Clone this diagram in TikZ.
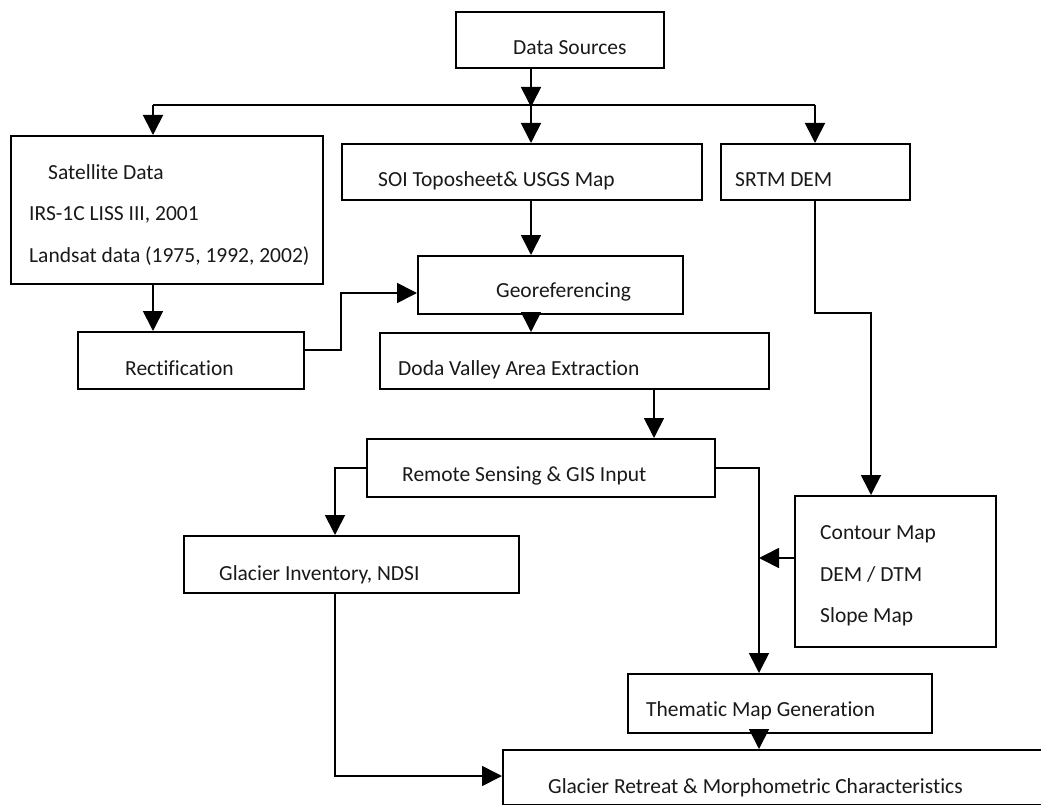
\documentclass[tikz,border=0pt]{standalone}
\usepackage{fontspec}
\setmainfont{Carlito}[Ligatures={NoCommon}]
\usetikzlibrary{arrows.meta}
\begin{document}
\begin{tikzpicture}[x=1pt,y=-1pt,
  box/.style={draw=black,line width=1.7pt,inner sep=0pt,anchor=north west},
  lbl/.style={anchor=base west,inner sep=0pt,text=black!90,font=\fontsize{21.5}{24}\selectfont},
  arr/.style={line width=1.7pt,-{Triangle[length=20pt,width=20pt]}},
  ln/.style={line width=1.7pt}]
\clip (0,0) rectangle (1041,805);
\fill[white] (0,0) rectangle (1041,805);
% boxes
\node[box,minimum width=208pt,minimum height=56pt] (ds) at (455,11) {};
\node[box,minimum width=312pt,minimum height=148pt] (sat) at (10,135) {};
\node[box,minimum width=360pt,minimum height=56pt] (soi) at (341,143) {};
\node[box,minimum width=189pt,minimum height=56pt] (srtm) at (720,143) {};
\node[box,minimum width=265pt,minimum height=58pt] (geo) at (417,255) {};
\node[box,minimum width=226pt,minimum height=57pt] (rect) at (77,331) {};
\node[box,minimum width=389pt,minimum height=56pt] (doda) at (379,332) {};
\node[box,minimum width=348pt,minimum height=58pt] (rs) at (366,438) {};
\node[box,minimum width=335pt,minimum height=57pt] (gi) at (183,535) {};
\node[box,minimum width=201pt,minimum height=151pt] (cm) at (794,495) {};
\node[box,minimum width=304pt,minimum height=59pt] (tm) at (627,673) {};
\node[box,minimum width=600pt,minimum height=55pt] (gr) at (502,749) {};
% texts
\node[lbl] (dst) at (513,55) {Data Sources};
\node[lbl] (satt1) at (48,180) {Satellite Data};
\node[lbl] (satt2) at (29,221) {IRS-1C LISS III, 2001};
\node[lbl] (satt3) at (29,262) {Landsat data (1975, 1992, 2002)};
\node[lbl] (soit) at (378,186) {SOI Toposheet\& USGS Map};
\node[lbl] (srtmt) at (735,186) {SRTM DEM};
\node[lbl] (geot) at (496,297) {Georeferencing};
\node[lbl] (rectt) at (125,375) {Rectification};
\node[lbl] (dodat) at (398,375) {Doda Valley Area Extraction};
\node[lbl] (rst) at (402,481) {Remote Sensing \& GIS Input};
\node[lbl] (git) at (219,580) {Glacier Inventory, NDSI};
\node[lbl] (cmt1) at (820,539) {Contour Map};
\node[lbl] (cmt2) at (820,581) {DEM / DTM};
\node[lbl] (cmt3) at (820,622) {Slope Map};
\node[lbl] (tmt) at (646,716) {Thematic Map Generation};
\node[lbl] (grt) at (548,793) {Glacier Retreat \& Morphometric Characteristics};
% coordinates
\coordinate (hub) at (531,105);
\coordinate (bl) at (153,105);
\coordinate (br) at (815,105);
\coordinate (rb) at (341,350);
\coordinate (rc) at (341,293);
\coordinate (dx) at (654,0);
\coordinate (s1) at (815,313);
\coordinate (s2) at (871,313);
\coordinate (t1) at (759,468);
\coordinate (t2) at (759,558);
\coordinate (g1) at (335,468);
\coordinate (g2) at (335,776);
% connectors
\draw[arr] (hub |- ds.south) -- ([yshift=-2pt]hub);
\draw[ln] (bl) -- (br);
\draw[arr] (hub) -- (hub |- soi.north);
\draw[arr] (bl) -- (bl |- sat.north);
\draw[arr] (br) -- (br |- srtm.north);
\draw[arr] (hub |- soi.south) -- (hub |- geo.north);
\draw[arr] (hub |- geo.south) -- (hub |- doda.north);
\draw[arr] (bl |- sat.south) -- (bl |- rect.north);
\draw[arr] (rb -| rect.east) -- (rb) -- (rc) -- (rc -| geo.west);
\draw[arr] (dx |- doda.south) -- (dx |- rs.north);
\draw[arr] (s1 |- srtm.south) -- (s1) -- (s2) -- (s2 |- cm.north);
\draw[arr] (t1 -| rs.east) -- (t1) -- (t1 |- tm.north);
\draw[arr] (t2 -| cm.west) -- (t2);
\draw[arr] (g1 -| rs.west) -- (g1) -- (g1 |- gi.north);
\draw[arr] (g1 |- gi.south) -- (g2) -- (g2 -| gr.west);
\draw[arr] (t1 |- tm.south) -- (t1 |- gr.north);
\end{tikzpicture}
\end{document}
